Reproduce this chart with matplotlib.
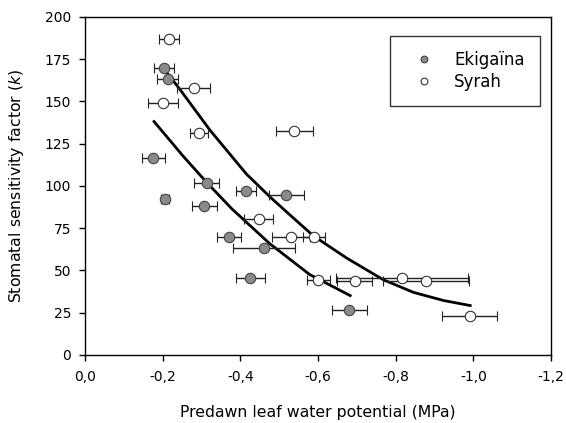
import matplotlib
matplotlib.use('Agg')
import matplotlib.pyplot as plt
from matplotlib.ticker import FuncFormatter

# Ekigaïna (grey symbols)
eki_x = [-0.204, -0.213, -0.176, -0.314, -0.415, -0.519, -0.206, -0.307,
         -0.371, -0.461, -0.426, -0.680]
eki_y = [169.6, 163.5, 116.6, 102.0, 97.2, 94.7, 92.1, 88.3, 70.0, 63.5, 45.7, 26.6]
eki_xerr = [0.026, 0.027, 0.030, 0.032, 0.026, 0.044, 0.010, 0.032,
            0.030, 0.079, 0.038, 0.045]

# Syrah (open symbols)
syr_x = [-0.216, -0.280, -0.201, -0.294, -0.539, -0.447, -0.530, -0.590,
         -0.601, -0.695, -0.817, -0.878, -0.991]
syr_y = [186.8, 158.2, 148.9, 131.4, 132.3, 80.7, 70.0, 70.0, 44.4, 44.0, 45.7, 44.0, 23.1]
syr_xerr = [0.026, 0.042, 0.039, 0.024, 0.047, 0.038, 0.049, 0.029,
            0.029, 0.045, 0.170, 0.110, 0.071]

# fitted curves
eki_fit_x = [-0.178, -0.253, -0.313, -0.378, -0.476, -0.579, -0.683]
eki_fit_y = [138.1, 117.6, 102.2, 86.5, 65.8, 47.5, 35.1]
syr_fit_x = [-0.202, -0.245, -0.322, -0.416, -0.476, -0.528, -0.588, -0.674,
             -0.768, -0.846, -0.923, -0.992]
syr_fit_y = [169.7, 157.0, 133.0, 107.0, 93.6, 82.8, 70.5, 57.3, 44.5, 37.0, 32.2, 29.2]

x_ticks = [0.0, -0.2, -0.4, -0.6, -0.8, -1.0, -1.2]
y_ticks = [0, 25, 50, 75, 100, 125, 150, 175, 200]

plt.rcParams['font.family'] = ['DejaVu Sans']
plt.rcParams['font.size'] = 10

fig = plt.figure(figsize=(5.66, 4.23), dpi=100)
ax = fig.add_axes([0.150, 0.161, 0.8235, 0.799])

ax.plot(eki_fit_x, eki_fit_y, color='black', lw=2, zorder=2)
ax.plot(syr_fit_x, syr_fit_y, color='black', lw=2, zorder=2)

ax.errorbar(eki_x, eki_y, xerr=eki_xerr, fmt='o', color='#222222', ecolor='#222222',
            elinewidth=1, capsize=3.5, capthick=1, markersize=7.5,
            markerfacecolor='#8a8a8a', markeredgecolor='#444444', markeredgewidth=0.8,
            label='Ekigaïna', zorder=3)
ax.errorbar(syr_x, syr_y, xerr=syr_xerr, fmt='o', color='#222222', ecolor='#222222',
            elinewidth=1, capsize=3.5, capthick=1, markersize=7.5,
            markerfacecolor='white', markeredgecolor='#333333', markeredgewidth=0.8,
            label='Syrah', zorder=3)

ax.set_xlim(0, -1.2)
ax.set_ylim(0, 200)
ax.set_xticks(x_ticks)
ax.set_yticks(y_ticks)
ax.xaxis.set_major_formatter(FuncFormatter(lambda v, p: f'{v:.1f}'.replace('.', ',').replace('-0,0', '0,0')))
ax.tick_params(direction='out', length=4, width=1, colors='black', labelsize=10)
ax.tick_params(axis='x', pad=7)
ax.tick_params(axis='y', pad=6)
for s in ax.spines.values():
    s.set_linewidth(1)

ax.set_xlabel('Predawn leaf water potential (MPa)', fontsize=11.3)
ax.set_ylabel('Stomatal sensitivity factor ($k$)', fontsize=11.3)
ax.xaxis.set_label_coords(0.5, -0.148)
ax.yaxis.set_label_coords(-0.127, 0.5)

handles, labels = ax.get_legend_handles_labels()
leg = ax.legend([h[0] for h in handles], labels, loc='upper right',
                bbox_to_anchor=(0.976, 0.943), frameon=True, fancybox=False,
                edgecolor='black', fontsize=12, markerscale=0.65,
                handlelength=2.3, handletextpad=0.65, borderpad=0.9,
                labelspacing=0.2, borderaxespad=0)
leg.get_frame().set_linewidth(1)

fig.savefig('out.png', dpi=100)
